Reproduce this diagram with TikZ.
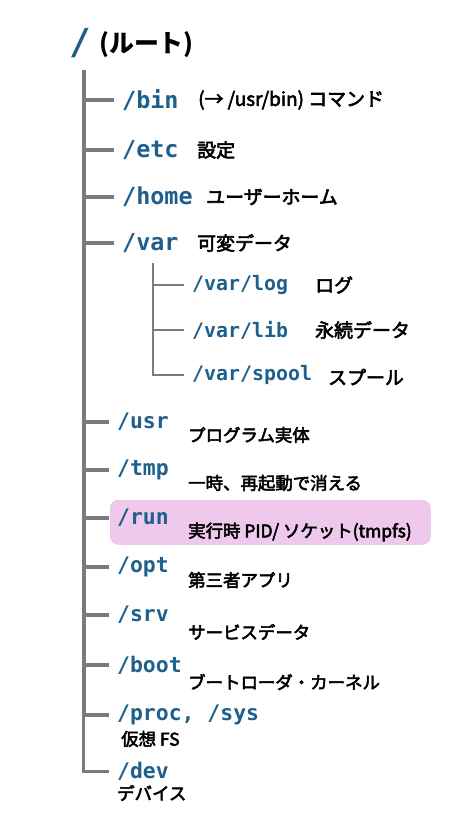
\documentclass[tikz,border=0pt]{standalone}
\usepackage{fontspec}
\newfontfamily\cjk{Noto Sans CJK JP}[FakeBold=3]
\newfontfamily\cjkb{Noto Sans CJK JP}
\newfontfamily\mono{DejaVu Sans Mono}
\definecolor{dirblue}{HTML}{1F5F8C}
\definecolor{trunkgray}{HTML}{7A7A7A}
\definecolor{hlpink}{HTML}{EFC9EC}
\definecolor{hlborder}{HTML}{E6BCE2}
\tikzset{
  dirA/.style={anchor=west,inner sep=0pt,text=dirblue,font=\mono\bfseries\fontsize{23.5}{24}\selectfont},
  dirB/.style={anchor=west,inner sep=0pt,text=dirblue,font=\mono\bfseries\fontsize{21.5}{22}\selectfont},
  dirC/.style={anchor=west,inner sep=0pt,text=dirblue,font=\mono\bfseries\fontsize{20}{20}\selectfont},
  descA/.style={anchor=west,inner sep=0pt,text=black,font=\cjk\fontsize{19}{19}\selectfont},
  descB/.style={anchor=west,inner sep=0pt,text=black,font=\cjk\fontsize{17.5}{17.5}\selectfont},
  branch/.style={draw=trunkgray,line width=3.2pt},
  subbranch/.style={draw=trunkgray,line width=2.8pt},
}
\begin{document}
\begin{tikzpicture}[x=1bp,y=-1bp]
\useasboundingbox (0,0) rectangle (457,819);
% highlight
\node[draw=hlborder,fill=hlpink,rounded corners=8bp,line width=0.6pt,minimum width=320bp,minimum height=44bp,inner sep=0pt,anchor=north west] (hl) at (110,500) {};
% root
\node[anchor=west,inner sep=0pt,text=dirblue,font=\mono\bfseries\fontsize{36}{36}\selectfont] (root) at (69,43) {/};
\node[anchor=west,inner sep=0pt,font=\cjkb\bfseries\fontsize{25}{25}\selectfont] (rootd) at (99,45) {(ルート)};
% top level dirs
\node[dirA] (bin) at (122,100) {/bin};
\node[descA] (bind) at (198,100) {(→ /usr/bin) コマンド};
\node[dirA] (etc) at (122,150) {/etc};
\node[descA] (etcd) at (197,150) {設定};
\node[dirA] (home) at (122,197) {/home};
\node[descA] (homed) at (206,197) {ユーザーホーム};
\node[dirA] (var) at (122,243) {/var};
\node[descA] (vard) at (197,243) {可変データ};
% var subdirs
\node[dirC] (log) at (192,285) {/var/log};
\node[descA] (logd) at (315,285) {ログ};
\node[dirC] (lib) at (192,330) {/var/lib};
\node[descA] (libd) at (315,330) {永続データ};
\node[dirC] (spool) at (192,375) {/var/spool};
\node[descA] (spoold) at (328,377) {スプール};
% lower dirs
\node[dirB] (usr) at (117,422) {/usr};
\node[descB] (usrd) at (188,435) {プログラム実体};
\node[dirB] (tmp) at (117,470) {/tmp};
\node[descB] (tmpd) at (188,483) {一時、再起動で消える};
\node[dirB] (run) at (117,518) {/run};
\node[descB] (rund) at (188,532) {実行時 PID/ ソケット(tmpfs)};
\node[dirB] (opt) at (117,567) {/opt};
\node[descB] (optd) at (188,580) {第三者アプリ};
\node[dirB] (srv) at (117,615) {/srv};
\node[descB] (srvd) at (188,632) {サービスデータ};
\node[dirB] (boot) at (117,665) {/boot};
\node[descB] (bootd) at (188,682) {ブートローダ・カーネル};
\node[dirB] (proc) at (117,715) {/proc, /sys};
\node[descB] (procd) at (121,739) {仮想 FS};
\node[dirB] (dev) at (117,771) {/dev};
\node[descB] (devd) at (117,793) {デバイス};
% trunk
\coordinate (t0) at (84,70);
\coordinate (t1) at (84,717);
\coordinate (t2) at (83.2,717);
\draw[draw=trunkgray,line width=4.6pt] (t0) -- (t1);
\draw[draw=trunkgray,line width=3pt] (t2) -- (t2 |- dev.west) -- ([xshift=-8bp]dev.west);
\foreach \n in {bin,etc,home,var,usr,tmp,run,opt,srv,boot,proc}
  \draw[branch] (t0 |- \n.west) -- ([xshift=-8bp]\n.west);
% var sub trunk
\coordinate (s0) at (153,263);
\draw[subbranch] (s0) -- (s0 |- spool.west) -- ([xshift=-8bp]spool.west);
\foreach \n in {log,lib}
  \draw[subbranch] (s0 |- \n.west) -- ([xshift=-8bp]\n.west);
\end{tikzpicture}
\end{document}
